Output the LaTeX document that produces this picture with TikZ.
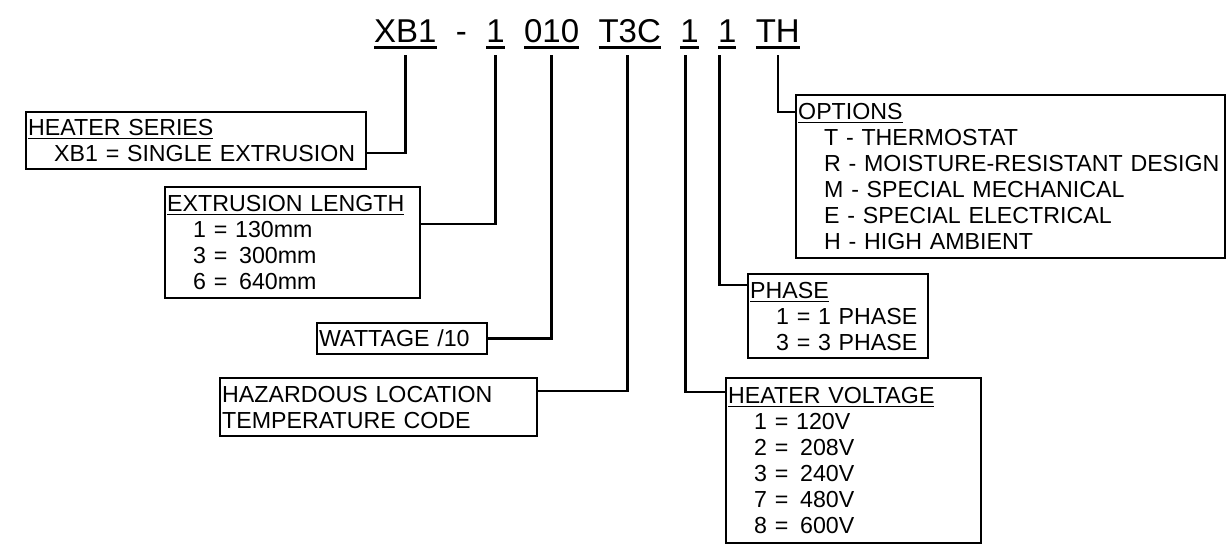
\documentclass[tikz,border=0pt]{standalone}
\usepackage{fontspec}
\setmainfont{Liberation Sans}
\usetikzlibrary{positioning}
\newcommand{\codeul}[1]{\setbox0\hbox{#1}\rlap{\rule[-6.5pt]{\wd0}{3pt}}\box0}
\newcommand{\hdrul}[1]{\setbox0\hbox{#1}\rlap{\rule[-3.8pt]{\wd0}{1.4pt}}\box0}
\newcommand{\ind}{\hspace*{26pt}}

\begin{document}
\begin{tikzpicture}[
    x=1pt, y=-1pt,
    code/.style={inner sep=0pt, font=\fontsize{33}{38}\selectfont},
    legend/.style={draw, line width=2.4pt, anchor=north west, align=left,
                   inner xsep=2pt, inner ysep=0pt,
                   font=\fontsize{23.2}{26}\selectfont},
    wire/.style={line width=2.6pt},
]
\useasboundingbox (0,0) rectangle (1226,551);

\node[code, anchor=base west] (c1) at (374,43) {\codeul{XB1}};
\node[code, base right=19pt of c1] (dash) {-};
\node[code, base right=19pt of dash] (c2) {\codeul{1}};
\node[code, base right=19pt of c2] (c3) {\codeul{010}};
\node[code, base right=19pt of c3] (c4) {\codeul{T3C}};
\node[code, base right=19pt of c4] (c5) {\codeul{1}};
\node[code, base right=19pt of c5] (c6) {\codeul{1}};
\node[code, base right=19pt of c6] (c7) {\codeul{TH}};

\node[legend, minimum width=340pt, text width=336pt, minimum height=57pt]
    (hs) at (25,111) {\hdrul{HEATER SERIES}\\
    \ind XB1 = SINGLE EXTRUSION};
\node[legend, minimum width=255pt, text width=251pt, minimum height=111pt]
    (el) at (164,186) {\hdrul{EXTRUSION LENGTH}\\
    \ind 1 = 130mm\\
    \ind 3 = \kern4pt300mm\\
    \ind 6 = \kern4pt640mm};
\node[legend, minimum width=170pt, text width=166pt, minimum height=31pt]
    (wt) at (316,322) {WATTAGE /10};
\node[legend, minimum width=317pt, text width=313pt, minimum height=58pt]
    (hz) at (219,377) {HAZARDOUS LOCATION\\
    TEMPERATURE CODE};
\node[legend, minimum width=429pt, text width=425pt, minimum height=163pt]
    (op) at (795,94) {\hdrul{OPTIONS}\\
    \ind T - THERMOSTAT\\
    \ind R - MOISTURE-RESISTANT DESIGN\\
    \ind M - SPECIAL MECHANICAL\\
    \ind E - SPECIAL ELECTRICAL\\
    \ind H - HIGH AMBIENT};
\node[legend, minimum width=180pt, text width=176pt, minimum height=84pt]
    (ph) at (747,273) {\hdrul{PHASE}\\
    \ind 1 = 1 PHASE\\
    \ind 3 = 3 PHASE};
\node[legend, minimum width=255pt, text width=251pt, minimum height=165pt]
    (hv) at (725,377) {\hdrul{HEATER VOLTAGE}\\
    \ind 1 = 120V\\
    \ind 2 = \kern4pt208V\\
    \ind 3 = \kern4pt240V\\
    \ind 7 = \kern4pt480V\\
    \ind 8 = \kern4pt600V};

\draw[wire] ([yshift=-42pt]hs.north east) -| ([yshift=-5.5pt]c1.south);
\draw[wire] ([yshift=-38pt]el.north east) -| ([yshift=-5.5pt]c2.south);
\draw[wire] (wt.east) -| ([yshift=-5.5pt]c3.south);
\draw[wire] ([yshift=-14pt]hz.north east) -| ([xshift=-2pt,yshift=-5.5pt]c4.south);
\draw[wire] ([yshift=-15pt]hv.north west) -| ([xshift=-4pt,yshift=-5.5pt]c5.south);
\draw[wire] ([yshift=-12pt]ph.north west) -| ([xshift=-7.5pt,yshift=-5.5pt]c6.south);
\draw[wire] ([yshift=-18pt]op.north west) -| ([yshift=-5.5pt]c7.south);
\end{tikzpicture}
\end{document}
